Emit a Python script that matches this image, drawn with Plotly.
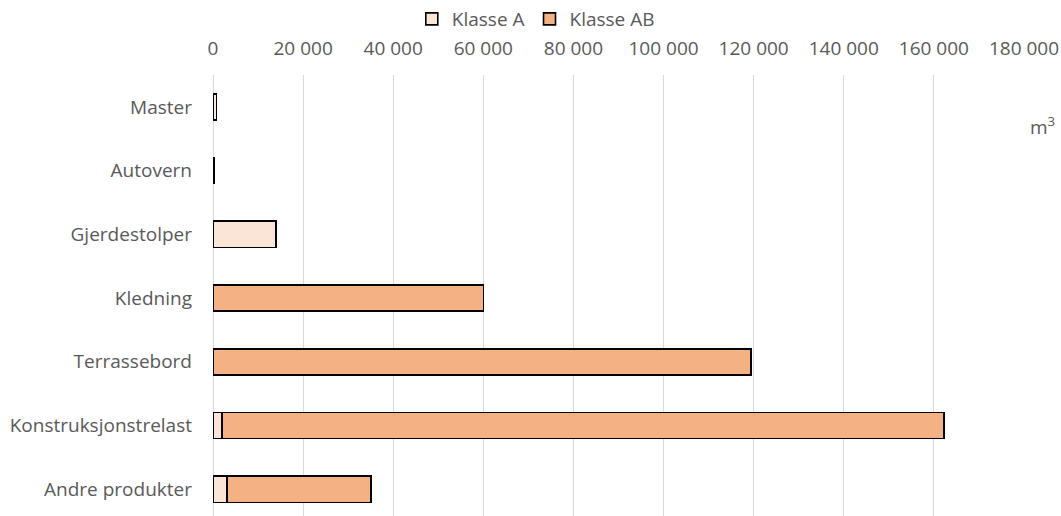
import plotly.graph_objects as go

categories = ["Master", "Autovern", "Gjerdestolper", "Kledning", "Terrassebord",
              "Konstruksjonstrelast", "Andre produkter"]
klasse_a = [800, 250, 14000, 0, 0, 2000, 3100]
klasse_ab = [0, 0, 0, 60000, 119400, 160300, 32000]
x_ticks = [0, 20000, 40000, 60000, 80000, 100000, 120000, 140000, 160000, 180000]

font_family = "Open Sans"
text_color = "#595959"

fig = go.Figure()
fig.add_trace(go.Bar(
    y=categories, x=klasse_a, name="Klasse A", orientation="h",
    marker=dict(color="#FBE5D6", line=dict(color="#000000", width=1.6)),
))
fig.add_trace(go.Bar(
    y=categories, x=klasse_ab, name="Klasse AB", orientation="h",
    marker=dict(color="#F4B183", line=dict(color="#000000", width=1.6)),
))

fig.update_layout(
    barmode="stack",
    bargap=0.59,
    width=1061, height=516,
    margin=dict(l=213, r=37, t=75, b=0, autoexpand=False),
    plot_bgcolor="white", paper_bgcolor="white",
    font=dict(family=font_family, size=19, color=text_color),
    separators=", ",
    legend=dict(orientation="h", xref="container", x=0.505, xanchor="center",
                y=1.0, yref="container", yanchor="top",
                font=dict(size=19, color=text_color),
                itemwidth=30, traceorder="normal"),
    xaxis=dict(side="top", range=[0, 180000], tickvals=x_ticks, tickformat=",d",
               showgrid=True, gridcolor="#D9D9D9", gridwidth=1.2,
               zeroline=True, zerolinecolor="#D9D9D9", zerolinewidth=1.2,
               showline=False, ticks="", fixedrange=True, automargin=False,
               ticklabelstandoff=15),
    yaxis=dict(categoryorder="array", categoryarray=categories,
               range=[6.42, -0.5], showgrid=False, zeroline=False, showline=False,
               ticks="", ticklabelstandoff=20, fixedrange=True, automargin=False),
    annotations=[dict(text="m<sup>3</sup>", xref="paper", yref="paper",
                      x=1.0, y=0.92, xanchor="left", xshift=4, showarrow=False,
                      font=dict(size=19, color=text_color))],
)

fig.write_html("out.html", config={"displayModeBar": False},
               post_script="document.body.style.margin='0';")
